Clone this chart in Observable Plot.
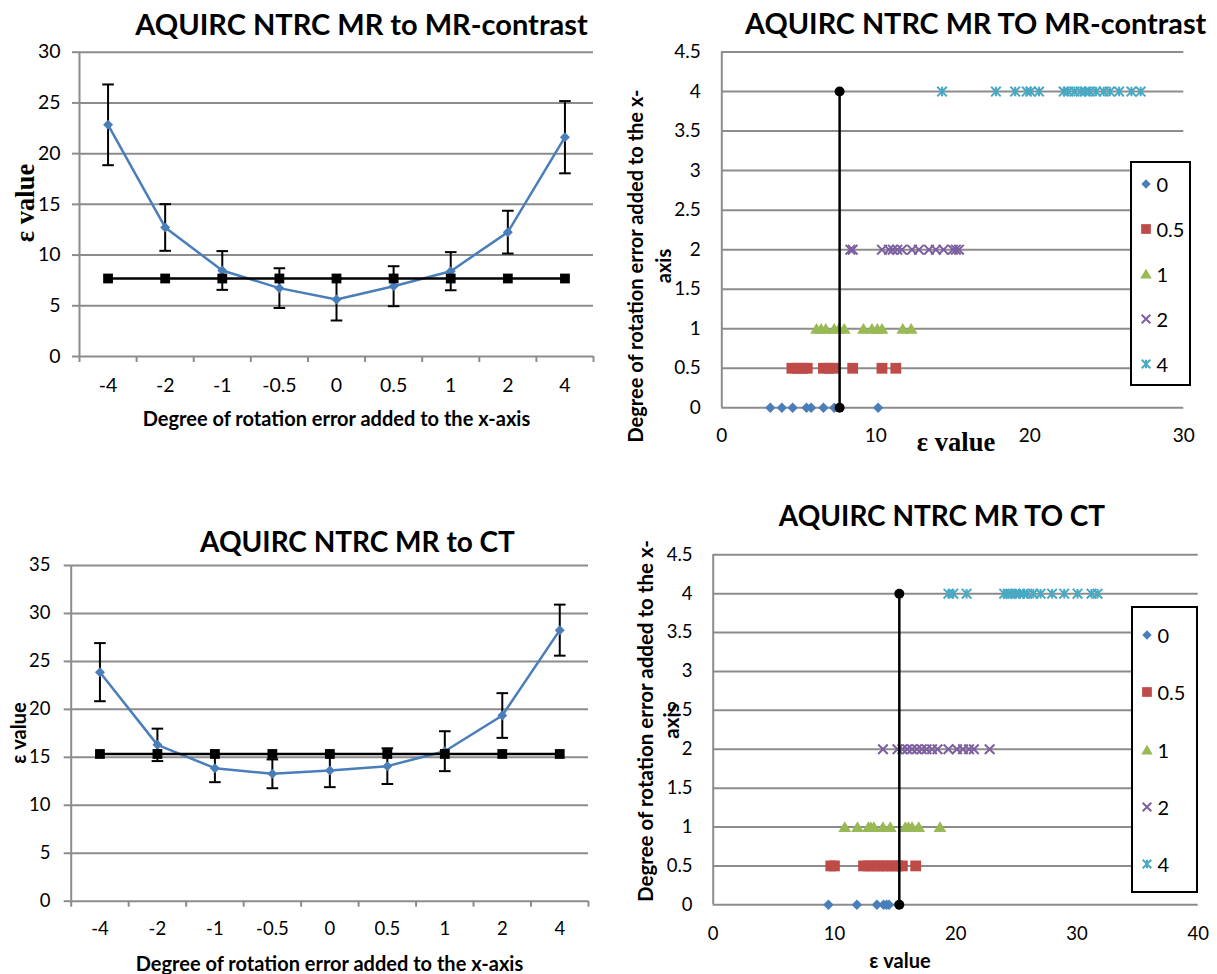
<!DOCTYPE html>
<html>
<head>
<meta charset="utf-8">
<script src="https://cdn.jsdelivr.net/npm/d3@7"></script>
<script src="https://cdn.jsdelivr.net/npm/@observablehq/plot@0.6"></script>
<style>
  body { margin: 0; background: #fff; }
  #page { position: relative; width: 1217px; height: 974px; background: #fff; overflow: hidden;
          font-family: Lato, "Open Sans", "DejaVu Sans", sans-serif; color: #000; }
  .lbl { position: absolute; white-space: pre; line-height: 1; text-align: center; }
  .legend { position: absolute; box-sizing: border-box; border: 2px solid #000; background: #fff; }
  .chart { position: absolute; }
</style>
</head>
<body>
<div id="page"></div>
<script>
// ---- rotation-error categories (x axis of the line charts) ----
const categories = ["-4", "-2", "-1", "-0.5", "0", "0.5", "1", "2", "4"];

// MR to MR-contrast: mean ε and standard deviation per rotation error, plus reference ε
const mrContrastMean = [22.84, 12.72, 8.48, 6.74, 5.62, 6.93, 8.41, 12.26, 21.62];
const mrContrastSd   = [3.98, 2.30, 1.91, 1.96, 2.07, 1.97, 1.88, 2.11, 3.56];
const mrContrastRef  = [7.69, 7.69, 7.69, 7.69, 7.69, 7.69, 7.69, 7.69, 7.69];

// MR to CT: mean ε and standard deviation per rotation error, plus reference ε
const ctMean = [23.88, 16.30, 13.87, 13.28, 13.63, 14.08, 15.64, 19.36, 28.26];
const ctSd   = [3.03, 1.69, 1.46, 1.50, 1.74, 1.86, 2.08, 2.33, 2.66];
const ctRef  = [15.35, 15.35, 15.35, 15.35, 15.35, 15.35, 15.35, 15.35, 15.35];

// ---- scatter charts: individual ε values for each rotation error level ----
const levels = [0, 0.5, 1, 2, 4];

const mrContrastEps0  = [3.15, 3.9, 4.6, 5.5, 5.8, 6.6, 7.3, 10.15];
const mrContrastEps05 = [4.55, 4.9, 5.25, 5.55, 6.6, 6.95, 7.25, 8.5, 10.4, 11.3];
const mrContrastEps1  = [6.15, 6.45, 6.75, 7.3, 7.6, 7.95, 9.2, 9.75, 10.1, 10.4, 11.75, 12.3];
const mrContrastEps2  = [8.35, 8.5, 10.4, 10.85, 11.1, 11.4, 11.7, 12.35, 12.8, 13.45, 13.9, 14.4, 15.0, 15.2, 15.4];
const mrContrastEps4  = [14.3, 17.8, 19.05, 19.8, 20.05, 20.6, 22.2, 22.5, 22.9, 23.3, 23.6, 23.9, 24.3, 24.8, 25.2, 25.8, 26.6, 27.2];
const mrContrastThreshold = [7.65, 7.65];

const ctEps0  = [9.5, 11.85, 13.5, 14.05, 14.3, 14.5, 15.25];
const ctEps05 = [9.7, 10.0, 12.4, 12.8, 13.2, 13.6, 14.0, 14.4, 14.8, 15.2, 15.6, 16.7];
const ctEps1  = [10.85, 11.9, 12.8, 13.0, 13.25, 14.0, 14.6, 15.85, 16.1, 16.4, 16.95, 18.7];
const ctEps2  = [14.0, 15.2, 15.6, 16.0, 16.4, 16.8, 17.2, 17.6, 18.05, 18.5, 19.4, 20.1, 20.6, 21.1, 21.5, 22.8];
const ctEps4  = [19.4, 19.8, 20.9, 24.0, 24.3, 24.5, 24.9, 25.3, 25.6, 25.9, 26.4, 27.0, 27.95, 28.95, 30.05, 31.2, 31.7];
const ctThreshold = [15.35, 15.35];

const thresholdLevels = [0, 4];

// ---- styling ----
const gray = "#8c8c8c";
const blue = "#4a7ebb";
const seriesColors = ["#4a7ebb", "#be4b48", "#98b954", "#7d5fa0", "#46aac5"];

// marker shapes (size = πr², as passed by Plot's dot mark)
const rad = s => Math.sqrt(s / Math.PI);
const diamond = {draw(c, s) { const r = rad(s); c.moveTo(0, -r); c.lineTo(r, 0); c.lineTo(0, r); c.lineTo(-r, 0); c.closePath(); }};
const square = {draw(c, s) { const r = rad(s); c.moveTo(-r, -r); c.lineTo(r, -r); c.lineTo(r, r); c.lineTo(-r, r); c.closePath(); }};
const triangle = {draw(c, s) { const r = rad(s); c.moveTo(0, -r); c.lineTo(r * 1.1, r * 0.85); c.lineTo(-r * 1.1, r * 0.85); c.closePath(); }};
const cross = {draw(c, s) { const r = rad(s); c.moveTo(-r, -r); c.lineTo(r, r); c.moveTo(r, -r); c.lineTo(-r, r); }};
const star = {draw(c, s) { const r = rad(s); c.moveTo(-r, -r); c.lineTo(r, r); c.moveTo(r, -r); c.lineTo(-r, r); c.moveTo(0, -r); c.lineTo(0, r); }};
const cap = {draw(c, s) { const r = rad(s); c.moveTo(-r, 0); c.lineTo(r, 0); }};

const seriesSymbols = [diamond, square, triangle, cross, star];
const seriesFilled = [true, true, true, false, false];
const seriesRadius = [5.2, 5.4, 5.8, 4.8, 4.8];

const page = document.getElementById("page");

function place(svg, left, top) {
  svg.classList.add("chart");
  svg.style.left = left + "px";
  svg.style.top = top + "px";
  page.appendChild(svg);
}

function label(text, x, y, {size = 20, bold = true, serif = false, rotate = false, lineHeight = 1} = {}) {
  const d = document.createElement("div");
  d.className = "lbl";
  d.textContent = text;
  d.style.left = x + "px";
  d.style.top = y + "px";
  d.style.fontSize = size + "px";
  d.style.fontWeight = bold ? "700" : "400";
  d.style.lineHeight = lineHeight === 1 ? "1" : lineHeight + "px";
  if (serif) d.style.fontFamily = '"Liberation Serif", "DejaVu Serif", serif';
  d.style.transform = "translate(-50%, -50%)" + (rotate ? " rotate(-90deg)" : "");
  page.appendChild(d);
}

function legend(left, top, width, height, fontSize) {
  const box = document.createElement("div");
  box.className = "legend";
  Object.assign(box.style, {left: left + "px", top: top + "px", width: width + "px", height: height + "px"});
  page.appendChild(box);
  const step = height / levels.length;
  levels.forEach((lv, k) => {
    const cy = top + (k + 0.5) * step;
    const r = seriesRadius[k] * 0.9;
    const ns = "http://www.w3.org/2000/svg";
    const svg = document.createElementNS(ns, "svg");
    svg.setAttribute("width", 16); svg.setAttribute("height", 16);
    svg.style.position = "absolute";
    svg.style.left = (left + 15.5 - 8) + "px";
    svg.style.top = (cy - 8) + "px";
    const p = document.createElementNS(ns, "path");
    p.setAttribute("d", d3.symbol(seriesSymbols[k], Math.PI * r * r)());
    p.setAttribute("transform", "translate(8,8)");
    if (seriesFilled[k]) p.setAttribute("fill", seriesColors[k]);
    else { p.setAttribute("fill", "none"); p.setAttribute("stroke", seriesColors[k]); p.setAttribute("stroke-width", 2); }
    svg.appendChild(p);
    page.appendChild(svg);
    const t = document.createElement("div");
    t.className = "lbl";
    t.textContent = String(lv);
    Object.assign(t.style, {left: (left + 26.5) + "px", top: cy + "px", fontSize: fontSize + "px", transform: "translate(0, -50%)", textAlign: "left"});
    page.appendChild(t);
  });
}

// Line chart of mean ε with ±SD error bars and the reference ε
function linePanel(o) {
  const rows = categories.map((c, i) => ({i, mean: o.mean[i], sd: o.sd[i], ref: o.ref[i]}));
  const yTicks = d3.range(0, o.yMax + 0.001, 5);
  return Plot.plot({
    width: o.width, height: o.height,
    marginLeft: o.margin[3], marginRight: o.margin[1], marginTop: o.margin[0], marginBottom: o.margin[2],
    x: {type: "linear", domain: [-0.5, categories.length - 0.5], label: null},
    y: {domain: [0, o.yMax], label: null},
    style: {background: "transparent", fontFamily: "Lato, 'Open Sans', sans-serif", color: "#000", overflow: "visible"},
    marks: [
      Plot.gridY(yTicks, {stroke: gray, strokeOpacity: 1, strokeWidth: 2}),
      Plot.ruleX([-0.5], {stroke: gray, strokeWidth: 2}),
      Plot.axisY(yTicks, {tickSize: 7, tickPadding: o.yPad, stroke: gray, strokeWidth: 2, fill: "#000", fontSize: o.font, label: null}),
      Plot.axisX(d3.range(-0.5, categories.length), {tickSize: 6, tickFormat: () => "", stroke: gray, strokeWidth: 2, label: null}),
      Plot.axisX(d3.range(categories.length), {tickSize: 0, tickPadding: o.xPad, tickFormat: i => categories[i], fill: "#000", fontSize: o.font, label: null}),
      Plot.ruleX(rows, {x: "i", y1: d => d.mean - d.sd, y2: d => d.mean + d.sd, stroke: "#000", strokeWidth: 2}),
      Plot.dot(rows, {x: "i", y: d => d.mean - d.sd, symbol: cap, r: 5.8, stroke: "#000", strokeWidth: 2, fill: "none"}),
      Plot.dot(rows, {x: "i", y: d => d.mean + d.sd, symbol: cap, r: 5.8, stroke: "#000", strokeWidth: 2, fill: "none"}),
      Plot.line(rows, {x: "i", y: "mean", stroke: blue, strokeWidth: 2.5}),
      Plot.dot(rows, {x: "i", y: "mean", symbol: diamond, r: 5, fill: blue, stroke: "none"}),
      Plot.line(rows, {x: "i", y: "ref", stroke: "#000", strokeWidth: 2.5}),
      Plot.dot(rows, {x: "i", y: "ref", symbol: square, r: 4.9, fill: "#000", stroke: "none"})
    ]
  });
}

// Scatter of individual ε values per rotation level, with the reference ε as a vertical segment
function scatterPanel(o) {
  const yTicks = d3.range(0, 4.5001, 0.5);
  const xTicks = d3.range(0, o.xMax + 0.001, 10);
  const ref = o.threshold.map((v, i) => ({eps: v, level: thresholdLevels[i]}));
  const marks = [
    Plot.gridY(yTicks, {stroke: gray, strokeOpacity: 1, strokeWidth: 2}),
    Plot.ruleX([0], {stroke: gray, strokeWidth: 2}),
    Plot.axisY(yTicks, {tickSize: 0, tickPadding: o.yPad, tickFormat: d3.format("~g"), fill: "#000", fontSize: o.font, label: null}),
    Plot.axisX(xTicks, {tickSize: 0, tickPadding: o.xPad, tickFormat: d3.format("~g"), fill: "#000", fontSize: o.font, label: null})
  ];
  o.series.forEach((vals, k) => {
    const style = seriesFilled[k]
      ? {fill: seriesColors[k], stroke: "none"}
      : {fill: "none", stroke: seriesColors[k], strokeWidth: 2};
    marks.push(Plot.dot(vals, {x: d => d, y: () => levels[k], symbol: seriesSymbols[k], r: seriesRadius[k], ...style}));
  });
  marks.push(Plot.line(ref, {x: "eps", y: "level", stroke: "#000", strokeWidth: 2.5}));
  marks.push(Plot.dot(ref, {x: "eps", y: "level", r: 5, fill: "#000", stroke: "none"}));
  return Plot.plot({
    width: o.width, height: o.height,
    marginLeft: o.margin[3], marginRight: o.margin[1], marginTop: o.margin[0], marginBottom: o.margin[2],
    x: {domain: [0, o.xMax], label: null},
    y: {domain: [0, 4.5], label: null},
    style: {background: "transparent", fontFamily: "Lato, 'Open Sans', sans-serif", color: "#000", overflow: "visible"},
    marks
  });
}

// top left: MR to MR-contrast, line chart
place(linePanel({
  mean: mrContrastMean, sd: mrContrastSd, ref: mrContrastRef, yMax: 30,
  width: 600, height: 400, margin: [11.7, 7, 84, 79], yPad: 12, xPad: 22, font: 19.5
}), 0, 40);

// top right: MR to MR-contrast, scatter
place(scatterPanel({
  series: [mrContrastEps0, mrContrastEps05, mrContrastEps1, mrContrastEps2, mrContrastEps4],
  threshold: mrContrastThreshold, xMax: 30,
  width: 617, height: 420, margin: [11.5, 33.7, 52.7, 121.3], yPad: 21, xPad: 21, font: 19
}), 600, 40);

// bottom left: MR to CT, line chart
place(linePanel({
  mean: ctMean, sd: ctSd, ref: ctRef, yMax: 35,
  width: 600, height: 434, margin: [25, 12, 73.3, 70.7], yPad: 13.7, xPad: 21, font: 18.5
}), 0, 540);

// bottom right: MR to CT, scatter
place(scatterPanel({
  series: [ctEps0, ctEps05, ctEps1, ctEps2, ctEps4],
  threshold: ctThreshold, xMax: 40,
  width: 617, height: 434, margin: [14.3, 19.3, 69.7, 112.7], yPad: 20.7, xPad: 22, font: 18.5
}), 600, 540);

// titles and axis titles
label("AQUIRC NTRC MR to MR-contrast", 361.5, 23, {size: 29});
label("ε value", 25, 203, {size: 26.5, serif: true, rotate: true});
label("Degree of rotation error added to the x-axis", 336.5, 418, {size: 20});

label("AQUIRC NTRC MR TO MR-contrast", 975.7, 23, {size: 28.8});
label("Degree of rotation error added to the x-\naxis", 649.4, 266, {size: 20, rotate: true, lineHeight: 27.5});
label("ε value", 956, 442, {size: 26.5, serif: true});

label("AQUIRC NTRC MR to CT", 357.5, 541, {size: 28});
label("ε value", 18, 733, {size: 20, rotate: true});
label("Degree of rotation error added to the x-axis", 329.5, 963, {size: 20});

label("AQUIRC NTRC MR TO CT", 942, 515, {size: 28});
label("Degree of rotation error added to the x-\naxis", 658, 721, {size: 20.5, rotate: true, lineHeight: 26});
label("ε value", 900, 960, {size: 20});

// legends
legend(1130, 161, 61, 225, 20);
legend(1131, 606, 67, 287, 20);
</script>
</body>
</html>
